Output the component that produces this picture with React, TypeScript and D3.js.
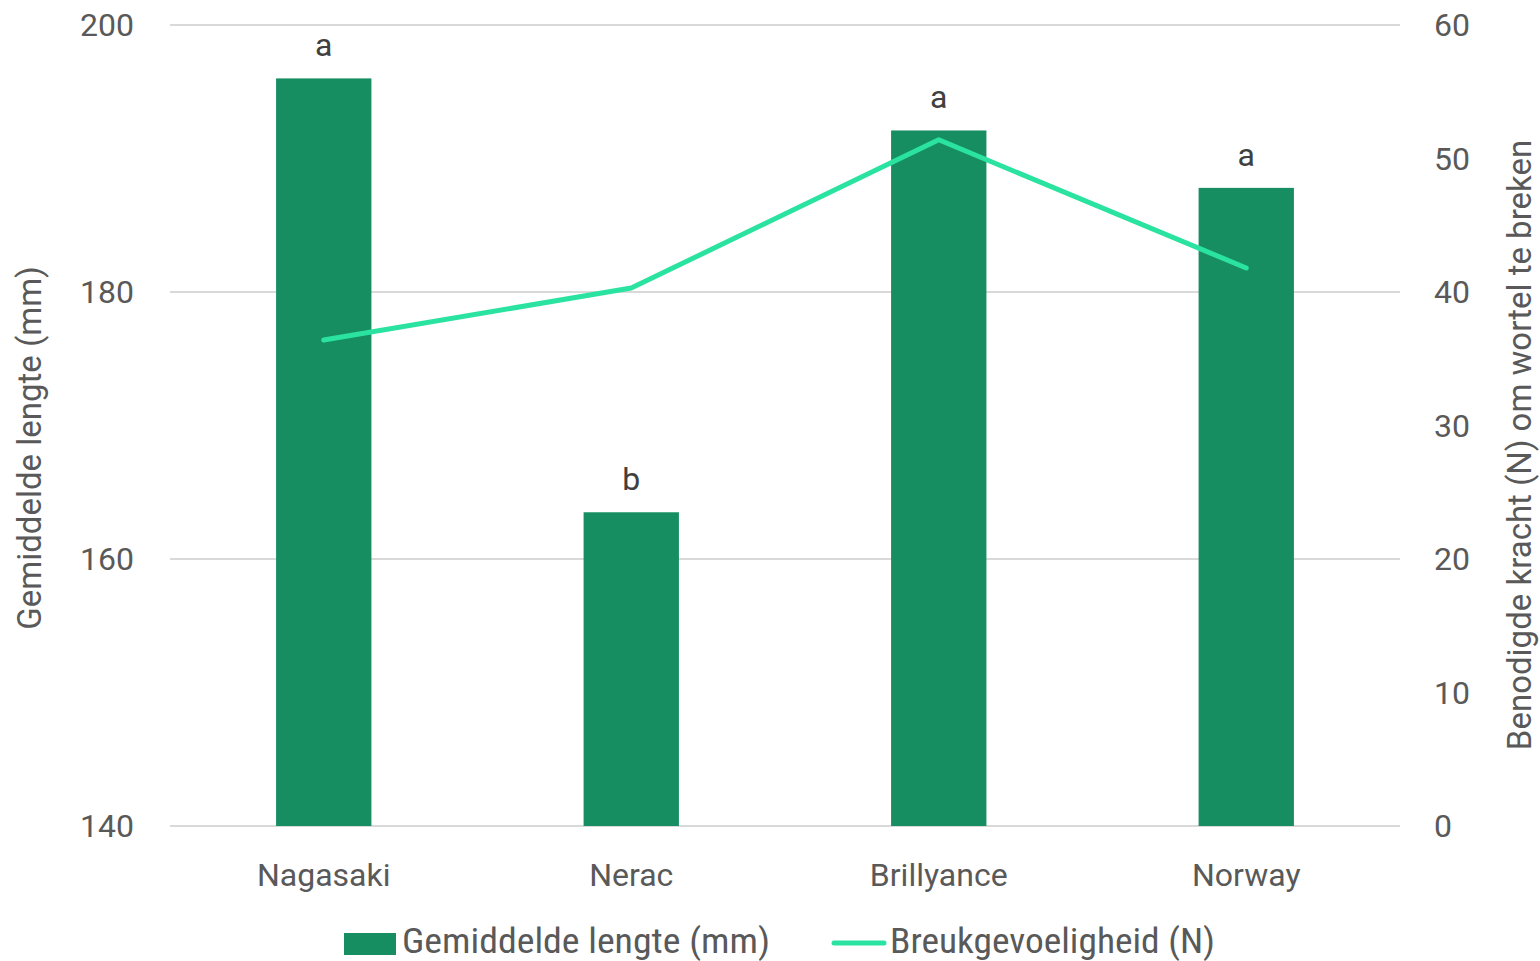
import React from "react";
import * as d3 from "d3";

const categories = ["Nagasaki", "Nerac", "Brillyance", "Norway"];
const lengths = [196.0, 163.5, 192.1, 187.8];
const breakForce = [36.4, 40.3, 51.4, 41.8];
const letters = ["a", "b", "a", "a"];
const leftTicks = [140, 160, 180, 200];
const rightTicks = [0, 10, 20, 30, 40, 50, 60];

const W = 1540, H = 961;
const left = 170, right = 1400, top = 25, bottom = 826;
const barColor = "#168E62";
const lineColor = "#2BE3A0";
const textColor = "#595959";
const font = "Roboto, 'Liberation Sans', sans-serif";
const legendFont = "'Liberation Sans Narrow', 'Roboto Condensed', Roboto, sans-serif";

export default function App() {
  const x = d3.scaleBand().domain(categories).range([left, right]).paddingInner(0.69).paddingOuter(0.345);
  const yL = d3.scaleLinear().domain([140, 200]).range([bottom, top]);
  const yR = d3.scaleLinear().domain([0, 60]).range([bottom, top]);
  const line = d3.line<number>()
    .x((_, i) => x(categories[i])! + x.bandwidth() / 2)
    .y((d) => yR(d));
  return (
    <svg width={W} height={H} style={{ position: "absolute", left: 0, top: 0, background: "#fff" }} fontFamily={font}>
      {leftTicks.map((t) => (
        <line key={"g" + t} x1={left} x2={right} y1={yL(t)} y2={yL(t)} stroke="#D9D9D9" strokeWidth={2} />
      ))}
      {leftTicks.map((t) => (
        <text key={"l" + t} x={134} y={yL(t)} dy="0.35em" textAnchor="end" fontSize={32} fill={textColor}>{t}</text>
      ))}
      {rightTicks.map((t) => (
        <text key={"r" + t} x={1434} y={yR(t)} dy="0.35em" textAnchor="start" fontSize={32} fill={textColor}>{t}</text>
      ))}
      {categories.map((c, i) => (
        <rect key={c} x={x(c)} y={yL(lengths[i])} width={x.bandwidth()} height={bottom - yL(lengths[i])} fill={barColor} />
      ))}
      {categories.map((c, i) => (
        <text key={"a" + c} x={x(c)! + x.bandwidth() / 2} y={yL(lengths[i]) - 22} textAnchor="middle" fontSize={32} fill="#404040">{letters[i]}</text>
      ))}
      <path d={line(breakForce) || ""} fill="none" stroke={lineColor} strokeWidth={5} strokeLinecap="round" strokeLinejoin="round" />
      {categories.map((c) => (
        <text key={"c" + c} x={x(c)! + x.bandwidth() / 2} y={886} textAnchor="middle" fontSize={32} fill={textColor}>{c}</text>
      ))}
      <text transform={`translate(41,448) rotate(-90)`} textAnchor="middle" fontSize={33} fill={textColor}>Gemiddelde lengte (mm)</text>
      <text transform={`translate(1531,445) rotate(-90)`} textAnchor="middle" fontSize={33} fill={textColor}>Benodigde kracht (N) om wortel te breken</text>
      <rect x={344} y={933} width={52} height={22} fill={barColor} />
      <text x={402} y={953} fontSize={35} fill={textColor} fontFamily={legendFont} textLength={368} lengthAdjust="spacingAndGlyphs">Gemiddelde lengte (mm)</text>
      <line x1={834} x2={884} y1={943} y2={943} stroke={lineColor} strokeWidth={5} strokeLinecap="round" />
      <text x={890} y={953} fontSize={35} fill={textColor} fontFamily={legendFont} textLength={325} lengthAdjust="spacingAndGlyphs">Breukgevoeligheid (N)</text>
    </svg>
  );
}
